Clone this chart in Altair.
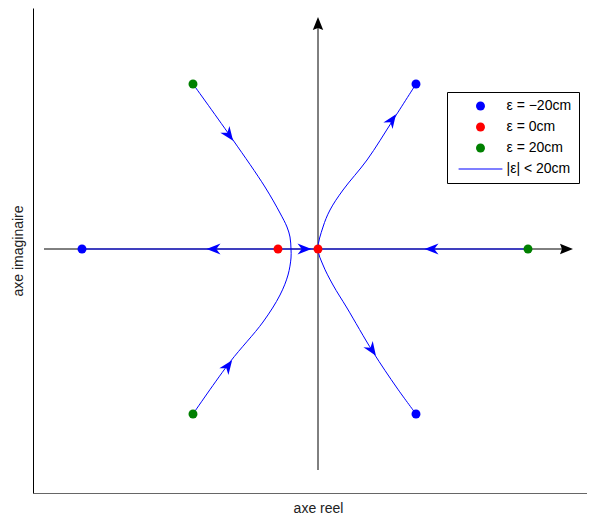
import altair as alt
import pandas as pd

# ---- data (units: arbitrary) ----
legend_labels = ["ε = −20cm", "ε = 0cm", "ε = 20cm", "|ε| < 20cm"]
legend_colors = ["#0000ff", "#ff0000", "#008000", "#0000ff"]

pt_series = ["ε = −20cm"] * 3 + ["ε = 0cm"] * 2 + ["ε = 20cm"] * 3
pt_x = [-4.72, 1.96, 1.96, -0.8, 0.0, -2.5, -2.5, 4.2]
pt_y = [0.0, 3.3, -3.3, 0.0, 0.0, 3.3, -3.3, 0.0]

left_branch_x = [-2.5, -1.7, -1.06, -0.76, -0.62, -0.56, -0.54, -0.54, -0.6, -0.76, -1.1, -1.76, -2.5]
left_branch_y = [3.3, 2.18, 1.24, 0.72, 0.44, 0.24, 0.0, -0.18, -0.52, -0.92, -1.46, -2.26, -3.3]
right_branch_x = [1.96, 1.5, 0.98, 0.5, 0.24, 0.1, 0.0, 0.1, 0.3, 0.58, 1.1, 1.58, 1.96]
right_branch_y = [3.3, 2.58, 1.78, 1.18, 0.78, 0.44, 0.0, -0.32, -0.72, -1.18, -2.06, -2.78, -3.3]
real_axis_x = [-4.72, 4.2]
real_axis_y = [0.0, 0.0]

arrow_x = [-1.78, -1.8, 1.48, 1.08, -2.09, -0.27, 2.27]
arrow_y = [2.28, -2.34, 2.58, -2.02, 0.0, 0.0, 0.0]
arrow_angle = [144, 36, 35, 146, 270, 90, 270]

axis_h_x = [-5.48, 4.97]
axis_v_y = [-4.42, 4.51]
axis_arrow_x = [4.97, 0.0]
axis_arrow_y = [0.0, 4.51]
axis_arrow_angle = [90, 0]

# ---- tables ----
curves = pd.DataFrame({
    "branch": ["left"] * len(left_branch_x) + ["right"] * len(right_branch_x) + ["real"] * len(real_axis_x),
    "order": list(range(len(left_branch_x))) + list(range(len(right_branch_x))) + list(range(len(real_axis_x))),
    "x": left_branch_x + right_branch_x + real_axis_x,
    "y": left_branch_y + right_branch_y + real_axis_y,
})
points = pd.DataFrame({"series": pt_series, "x": pt_x, "y": pt_y})
arrows = pd.DataFrame({"x": arrow_x, "y": arrow_y, "angle": arrow_angle})
axes_lines = pd.DataFrame({
    "line": ["h", "h", "v", "v"],
    "order": [0, 1, 0, 1],
    "x": axis_h_x + [0.0, 0.0],
    "y": [0.0, 0.0] + axis_v_y,
})
axis_arrows = pd.DataFrame({"x": axis_arrow_x, "y": axis_arrow_y, "angle": axis_arrow_angle})

x_scale = alt.Scale(domain=[-5.7, 5.38], nice=False, zero=False)
y_scale = alt.Scale(domain=[-4.88, 4.82], nice=False, zero=False)


def xenc():
    return alt.X("x:Q", scale=x_scale, title="axe reel")


def yenc():
    return alt.Y("y:Q", scale=y_scale, title="axe imaginaire")


arrow_path = "M0,-1L0.8,1L0,0.4L-0.8,1Z"
axis_arrow_path = "M0,-1L0.8,1L0,0.7L-0.8,1Z"
line_symbol = "M-4.9,-0.12L4.9,-0.12L4.9,0.12L-4.9,0.12Z"

axes_layer = alt.Chart(axes_lines).mark_line(color="black", strokeWidth=1).encode(
    x=xenc(), y=yenc(), detail="line:N", order="order:Q"
)
axes_arrow_layer = alt.Chart(axis_arrows).mark_point(
    shape=axis_arrow_path, filled=True, color="black", size=169, opacity=1
).encode(x=xenc(), y=yenc(), angle=alt.Angle("angle:Q", scale=None))

curve_layer = alt.Chart(curves).mark_line(color="#0000ff", strokeWidth=1, interpolate="catmull-rom").encode(
    x=xenc(), y=yenc(), detail="branch:N", order="order:Q"
)
arrow_layer = alt.Chart(arrows).mark_point(
    shape=arrow_path, filled=True, color="#0000ff", size=196, opacity=1
).encode(x=xenc(), y=yenc(), angle=alt.Angle("angle:Q", scale=None))

leg = alt.Legend(
    orient="none", legendX=414, legendY=84, title=None,
    strokeColor="black", fillColor="white", padding=7,
    labelFont="Liberation Sans", labelFontSize=14, labelColor="black",
    symbolSize=80, symbolStrokeWidth=0, symbolOffset=19.5, labelOffset=19,
    rowPadding=7, symbolOpacity=1,
)
point_layer = alt.Chart(points).mark_point(filled=True, size=80, opacity=1).encode(
    x=xenc(), y=yenc(),
    color=alt.Color("series:N", scale=alt.Scale(domain=legend_labels, range=legend_colors), legend=leg),
    shape=alt.Shape("series:N", scale=alt.Scale(domain=legend_labels,
                    range=["circle", "circle", "circle", line_symbol]), legend=leg),
)

chart = alt.layer(axes_layer, axes_arrow_layer, curve_layer, arrow_layer, point_layer).properties(
    width=554, height=485,
    autosize=alt.AutoSizeParams(type="none"),
    padding={"left": 25, "top": 0, "right": 0, "bottom": 27},
).configure_view(strokeWidth=0).configure_axis(
    grid=False, ticks=False, labels=False, domainColor="black", domainWidth=1,
    titleFont="Liberation Sans", titleFontSize=14, titleFontWeight="normal",
    titleColor="#222222", titlePadding=8,
).configure_axisX(domainColor="#666666", titleX=285)

chart.save("out.html", embed_options={"renderer": "svg", "actions": False})
